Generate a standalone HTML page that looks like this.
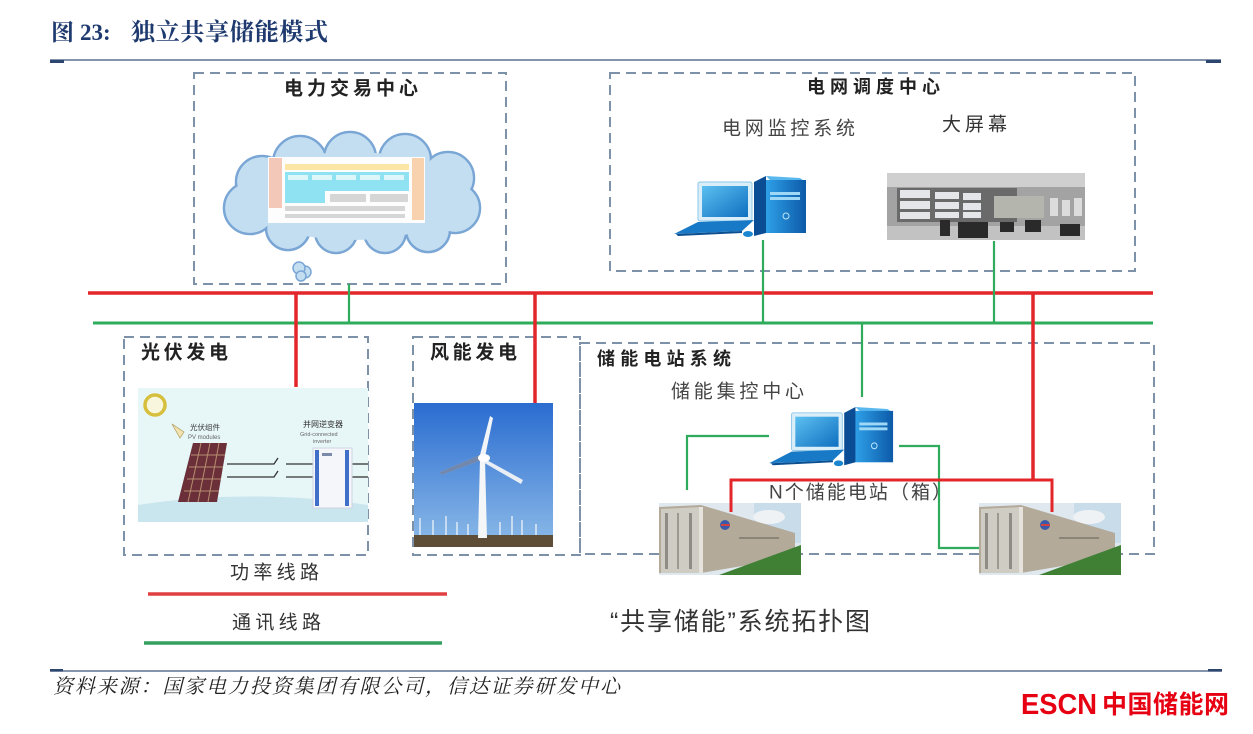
<!DOCTYPE html>
<html><head><meta charset="utf-8"><style>
html,body{margin:0;padding:0;background:#fff;}
svg{display:block;}
</style></head><body>
<svg width="1253" height="734" viewBox="0 0 1253 734" xmlns="http://www.w3.org/2000/svg" font-family="'Liberation Sans','Noto Sans CJK SC',sans-serif">
<defs>
<linearGradient id="sky" x1="0" y1="0" x2="0" y2="1"><stop offset="0" stop-color="#2a6cd0"/><stop offset="1" stop-color="#8dbbe8"/></linearGradient>
<linearGradient id="scr" x1="0" y1="0" x2="1" y2="1"><stop offset="0" stop-color="#5cc0f0"/><stop offset="1" stop-color="#0f6fc0"/></linearGradient>
<linearGradient id="tow" x1="0" y1="0" x2="1" y2="0"><stop offset="0" stop-color="#2ea0e8"/><stop offset="1" stop-color="#0d5aa8"/></linearGradient>
<g id="pc">
  <rect x="24" y="6" width="54" height="39" rx="2" fill="#d9eef9" stroke="#8cc6e8" stroke-width="1"/>
  <rect x="28" y="10" width="46" height="31" fill="url(#scr)"/>
  <polygon points="0,58 68,55 80,44 24,46" fill="#1879c6"/>
  <polygon points="2,58 68,55 68,57 4,60" fill="#0c4f90"/>
  <polygon points="80,6 92,0 92,57 80,60" fill="#0b4d95"/>
  <polygon points="92,0 126,2 132,6 96,4" fill="#59b8ee"/>
  <rect x="92" y="4" width="40" height="53" fill="url(#tow)"/>
  <rect x="96" y="16" width="30" height="3" fill="#9fd8f6"/>
  <rect x="96" y="21" width="30" height="3" fill="#9fd8f6"/>
  <circle cx="112" cy="40" r="3" fill="none" stroke="#bfe6fa" stroke-width="1"/>
  <ellipse cx="74" cy="58" rx="5" ry="3" fill="#1a86d0"/>
</g>
<g id="cont">
  <rect x="0" y="0" width="142" height="72" fill="#dfe8ee"/>
  <rect x="95" y="0" width="47" height="40" fill="#c9dcea"/>
  <ellipse cx="110" cy="14" rx="16" ry="7" fill="#eef2f4"/>
  <polygon points="0,4 42,2 136,30 136,54 42,70 0,70" fill="#b4aa9a"/>
  <polygon points="2,6 42,4 42,70 2,70" fill="#cfccc4"/>
  <rect x="6" y="10" width="3" height="56" fill="#8f8c86"/>
  <rect x="18" y="10" width="2" height="56" fill="#9d9a94"/>
  <rect x="30" y="10" width="3" height="56" fill="#8f8c86"/>
  <rect x="40" y="4" width="4" height="66" fill="#e6e3dc"/>
  <polygon points="60,72 142,42 142,72" fill="#3f8035"/>
  <circle cx="66" cy="22" r="5" fill="#3a5aa8"/>
  <rect x="62" y="21" width="9" height="2" fill="#d04040"/>
  <rect x="80" y="34" width="40" height="2" fill="#8b8478"/>
</g>
</defs>

<!-- Title -->
<g style="font-family:'Liberation Serif','Noto Serif CJK SC',serif;font-weight:bold" fill="#1e3a6e">
<text x="51" y="40" font-size="23">图</text>
<text x="80" y="40" font-size="23">23:</text>
<text x="131" y="40" font-size="24" textLength="197">独立共享储能模式</text>
</g>
<line x1="50" y1="60" x2="1221" y2="60" stroke="#5a7090" stroke-width="1.5"/>
<rect x="50" y="60" width="14" height="3" fill="#2c4670"/>
<rect x="1206" y="60" width="15" height="3" fill="#2c4670"/>

<!-- dashed boxes -->
<g fill="none" stroke="#7d91a8" stroke-width="2" stroke-dasharray="10 6">
  <rect x="194" y="73" width="312" height="211"/>
  <rect x="610" y="73" width="525" height="198"/>
  <rect x="124" y="337" width="244" height="218"/>
  <rect x="413" y="337" width="167" height="218"/>
  <rect x="580" y="343" width="574" height="211"/>
</g>

<!-- top-left content -->
<text x="284" y="89" dominant-baseline="central" font-weight="bold" font-size="19" fill="#222" textLength="134">电力交易中心</text>
<g stroke="#7aa6d6" stroke-width="2.5" fill="#c4def1">
  <circle cx="262" cy="182" r="26"/><circle cx="300" cy="163" r="27"/><circle cx="350" cy="158" r="26"/>
  <circle cx="405" cy="160" r="26"/><circle cx="448" cy="178" r="26"/><circle cx="455" cy="208" r="25"/>
  <circle cx="428" cy="230" r="22"/><circle cx="385" cy="232" r="21"/><circle cx="336" cy="232" r="21"/>
  <circle cx="288" cy="228" r="22"/><circle cx="250" cy="208" r="26"/>
</g>
<g fill="#c4def1">
  <circle cx="262" cy="182" r="24.7"/><circle cx="300" cy="163" r="25.7"/><circle cx="350" cy="158" r="24.7"/>
  <circle cx="405" cy="160" r="24.7"/><circle cx="448" cy="178" r="24.7"/><circle cx="455" cy="208" r="23.7"/>
  <circle cx="428" cy="230" r="20.7"/><circle cx="385" cy="232" r="19.7"/><circle cx="336" cy="232" r="19.7"/>
  <circle cx="288" cy="228" r="20.7"/><circle cx="250" cy="208" r="24.7"/>
  <ellipse cx="352" cy="196" rx="112" ry="44"/>
</g>
<g stroke="#7aa6d6" stroke-width="1.5" fill="#c4def1">
  <circle cx="305" cy="272" r="6"/><circle cx="299" cy="268" r="6"/><circle cx="301" cy="276" r="5"/>
</g>
<!-- table in cloud -->
<rect x="268" y="157" width="157" height="66" fill="#fdfdfd"/>
<rect x="269" y="158" width="13" height="50" fill="#f3c8b8"/>
<rect x="285" y="164" width="124" height="6" fill="#fbe6a6"/>
<rect x="285" y="172" width="124" height="19" fill="#8fe2f1"/>
<rect x="285" y="191" width="40" height="12" fill="#8fe2f1"/>
<g fill="#ffffff" opacity="0.7"><rect x="288" y="175" width="20" height="5"/><rect x="312" y="175" width="20" height="5"/><rect x="336" y="175" width="20" height="5"/><rect x="360" y="175" width="20" height="5"/><rect x="384" y="175" width="20" height="5"/></g>
<g fill="#d6d6d6"><rect x="330" y="194" width="36" height="8"/><rect x="370" y="194" width="38" height="8"/><rect x="285" y="206" width="120" height="5"/><rect x="285" y="214" width="120" height="4"/></g>
<rect x="412" y="158" width="12" height="62" fill="#f8d2ae"/>

<!-- top-right content -->
<text x="807" y="87" dominant-baseline="central" font-weight="bold" font-size="18" fill="#222" textLength="133">电网调度中心</text>
<text x="722" y="129" dominant-baseline="central" font-size="19" fill="#444" textLength="133">电网监控系统</text>
<text x="942" y="125" dominant-baseline="central" font-size="19" fill="#333" textLength="65">大屏幕</text>
<use href="#pc" transform="translate(674,176)"/>
<!-- big screen photo -->
<rect x="887" y="173" width="198" height="67" fill="#a3a3a3"/>
<rect x="887" y="173" width="198" height="14" fill="#cfcfcf"/>
<rect x="897" y="188" width="120" height="34" fill="#6a6a6a"/>
<g fill="#e4e6ea"><rect x="900" y="190" width="30" height="8"/><rect x="900" y="201" width="30" height="8"/><rect x="900" y="212" width="30" height="7"/>
<rect x="935" y="192" width="24" height="7"/><rect x="935" y="202" width="24" height="7"/><rect x="935" y="212" width="24" height="6"/>
<rect x="963" y="193" width="18" height="7"/><rect x="963" y="203" width="18" height="7"/><rect x="963" y="212" width="18" height="6"/></g>
<rect x="994" y="196" width="50" height="22" fill="#b4b6ae"/>
<g fill="#dcdcdc"><rect x="1050" y="198" width="8" height="18"/><rect x="1062" y="200" width="8" height="16"/><rect x="1074" y="198" width="8" height="18"/></g>
<rect x="887" y="226" width="198" height="14" fill="#c2c2c2"/>
<g fill="#2a2a2a"><rect x="958" y="222" width="30" height="16"/><rect x="940" y="220" width="10" height="16"/><rect x="1000" y="222" width="14" height="10"/><rect x="1025" y="220" width="16" height="12"/><rect x="1060" y="224" width="20" height="12"/></g>

<!-- power & comm lines -->
<line x1="88" y1="293" x2="1153" y2="293" stroke="#e3262a" stroke-width="3.5"/>
<line x1="93" y1="323" x2="1153" y2="323" stroke="#2fab5c" stroke-width="3"/>
<g stroke="#e3262a" stroke-width="3.5">
  <line x1="296" y1="293" x2="296" y2="387"/>
  <line x1="535" y1="293" x2="535" y2="404"/>
  <line x1="1033" y1="293" x2="1033" y2="481"/>
</g>
<g stroke="#2fab5c" stroke-width="2.2" fill="none">
  <line x1="349" y1="284" x2="349" y2="323"/>
  <line x1="763" y1="240" x2="763" y2="323"/>
  <line x1="994" y1="241" x2="994" y2="323"/>
  <line x1="862" y1="323" x2="862" y2="397"/>
</g>

<!-- PV -->
<text x="141" y="353" dominant-baseline="central" font-weight="bold" font-size="19" fill="#222" textLength="87">光伏发电</text>
<rect x="138" y="388" width="230" height="134" fill="#e7f6f7"/>
<path d="M138 505 Q250 488 368 505 L368 522 L138 522 Z" fill="#c9e5ee"/>
<circle cx="155" cy="405" r="10" fill="#f8f6dc" stroke="#d6bf3c" stroke-width="3.5"/>
<polygon points="193,443 227,443 217,502 178,502" fill="#6b2f3a"/>
<g stroke="#c9a57a" stroke-width="1" opacity="0.8">
  <line x1="201" y1="443" x2="188" y2="502"/><line x1="210" y1="443" x2="198" y2="502"/><line x1="219" y1="443" x2="208" y2="502"/>
  <line x1="191" y1="455" x2="225" y2="455"/><line x1="189" y1="467" x2="223" y2="467"/><line x1="187" y1="479" x2="221" y2="479"/><line x1="184" y1="491" x2="219" y2="491"/>
</g>
<path d="M172 424 L184 432 L180 438 Z" fill="#f3e3b0" stroke="#b9a870" stroke-width="0.8"/>
<text x="190" y="430" font-size="7.5" fill="#333">光伏组件</text>
<text x="188" y="439" font-size="6" fill="#666">PV modules</text>
<text x="303" y="427" font-size="8" fill="#333">并网逆变器</text>
<text x="300" y="436" font-size="5.5" fill="#666">Grid-connected</text>
<text x="313" y="443" font-size="5.5" fill="#666">inverter</text>
<g stroke="#333" stroke-width="1.3" fill="none">
  <line x1="227" y1="464" x2="268" y2="464"/><line x1="227" y1="477" x2="268" y2="477"/>
  <path d="M268 464 L274 464 L278 458"/><path d="M268 477 L274 477 L278 471"/>
  <line x1="286" y1="464" x2="313" y2="464"/><line x1="286" y1="477" x2="313" y2="477"/>
  <line x1="352" y1="464" x2="368" y2="464"/><line x1="352" y1="477" x2="368" y2="477"/>
</g>
<rect x="313" y="448" width="39" height="60" fill="#f5f6fa" stroke="#cfd4e0" stroke-width="1"/>
<rect x="315" y="450" width="4" height="56" fill="#3f6fc8"/>
<rect x="345" y="450" width="4" height="56" fill="#3f6fc8"/>
<rect x="322" y="453" width="10" height="3" fill="#7a8aa8"/>

<!-- Wind -->
<text x="430" y="353" dominant-baseline="central" font-weight="bold" font-size="19" fill="#222" textLength="87">风能发电</text>
<rect x="414" y="403" width="139" height="144" fill="url(#sky)"/>
<g stroke="#eef3f8" stroke-width="1.3">
  <line x1="420" y1="518" x2="420" y2="537"/><line x1="433" y1="520" x2="433" y2="537"/><line x1="446" y1="516" x2="446" y2="537"/>
  <line x1="457" y1="522" x2="457" y2="537"/><line x1="468" y1="524" x2="468" y2="537"/><line x1="500" y1="522" x2="500" y2="537"/>
  <line x1="512" y1="516" x2="512" y2="537"/><line x1="522" y1="520" x2="522" y2="537"/><line x1="536" y1="524" x2="536" y2="537"/>
</g>
<rect x="414" y="535" width="139" height="12" fill="#5e4e38"/>
<polygon points="480,459 485,459 487,538 478,538" fill="#f4f6f8"/>
<g fill="#f2f5f8">
  <polygon points="480,455 490,416 493,418 485,457"/>
  <polygon points="480,455 440,472 441,475 482,460"/>
</g>
<polygon points="483,458 523,480 521,484 481,461" fill="#e8eef4"/>
<polygon points="480,455 440,472 441,475 482,460" fill="#1c3e7a" opacity="0.6"/>
<ellipse cx="484" cy="458" rx="6" ry="4" fill="#ffffff"/>

<!-- Storage station -->
<text x="597" y="359" dominant-baseline="central" font-weight="bold" font-size="18" fill="#222" textLength="134">储能电站系统</text>
<text x="671" y="392" dominant-baseline="central" font-size="19" fill="#444" textLength="133">储能集控中心</text>
<use href="#pc" transform="translate(769,407) scale(0.94,0.97)"/>
<g stroke="#2fab5c" stroke-width="2.2" fill="none">
  <polyline points="769,436 687,436 687,490"/>
  <polyline points="899,446 939,446 939,548 981,548"/>
</g>
<polyline points="731,510 731,480 1052,480 1052,510" stroke="#e3262a" stroke-width="3" fill="none"/>
<text x="769" y="493" dominant-baseline="central" font-size="19" fill="#444" textLength="182">N个储能电站（箱）</text>
<use href="#cont" transform="translate(659,503)"/>
<use href="#cont" transform="translate(979,503)"/>
<line x1="731" y1="480" x2="731" y2="512" stroke="#e3262a" stroke-width="3"/>
<line x1="1052" y1="480" x2="1052" y2="512" stroke="#e3262a" stroke-width="3"/>

<!-- legend -->
<text x="230" y="573" dominant-baseline="central" font-size="19" fill="#333" textLength="89">功率线路</text>
<line x1="148" y1="594" x2="447" y2="594" stroke="#e04040" stroke-width="3.5"/>
<text x="232" y="623" dominant-baseline="central" font-size="19" fill="#333" textLength="89">通讯线路</text>
<line x1="144" y1="643" x2="442" y2="643" stroke="#34a05e" stroke-width="3.5"/>
<text x="610" y="622" dominant-baseline="central" font-size="25" fill="#333" textLength="260">“共享储能”系统拓扑图</text>

<!-- footer -->
<line x1="50" y1="671" x2="1222" y2="671" stroke="#5a7090" stroke-width="1.5"/>
<rect x="50" y="669" width="13" height="2.5" fill="#2c4670"/>
<rect x="1208" y="669" width="14" height="2.5" fill="#2c4670"/>
<text x="53" y="687" dominant-baseline="central" style="font-family:'Liberation Serif','Noto Serif CJK SC',serif;font-style:italic" font-size="20" fill="#222" textLength="567">资料来源：国家电力投资集团有限公司，信达证券研发中心</text>
<text x="1021" y="714" font-weight="bold" font-size="29" fill="#e60012" textLength="76" lengthAdjust="spacingAndGlyphs">ESCN</text>
<text x="1102" y="713" font-weight="bold" font-size="25" fill="#e60012" textLength="127">中国储能网</text>
</svg>
</body></html>
